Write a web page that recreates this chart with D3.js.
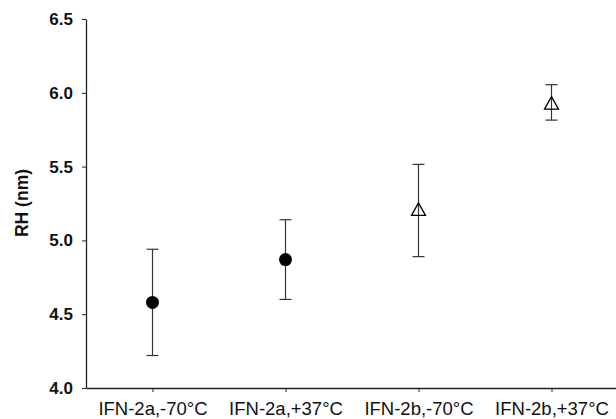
<!DOCTYPE html>
<html>
<head>
<meta charset="utf-8">
<script src="https://cdn.jsdelivr.net/npm/d3@7"></script>
<style>
  body { margin: 0; background: #fff; }
  .axis text { font-family: "Liberation Sans", Arial, sans-serif; fill: #111; }
</style>
</head>
<body>
<div class="chart"></div>
<script>
// DATA ------------------------------------
const groups = ["IFN-2a,-70\u00B0C", "IFN-2a,+37\u00B0C", "IFN-2b,-70\u00B0C", "IFN-2b,+37\u00B0C"];
const means  = [4.58, 4.87, 5.21, 5.93];
const upper  = [4.94, 5.14, 5.515, 6.055];
const lower  = [4.22, 4.60, 4.89, 5.815];
const symbols = ["circle", "circle", "triangle", "triangle"];
const yTicks = [4.0, 4.5, 5.0, 5.5, 6.0, 6.5];

// CHART INIT ------------------------------
const W = 616, H = 419;
const svg = d3.select(".chart")
    .append("svg")
    .attr("width", W)
    .attr("height", H);

const data = groups.map((g, i) => ({group: g, mean: means[i], hi: upper[i], lo: lower[i], sym: symbols[i]}));

let xScale = d3.scalePoint()
    .domain(groups)
    .range([86, 618])
    .padding(0.5);
let yScale = d3.scaleLinear()
    .domain([4, 6.5])
    .range([388, 19]);

// axes
const xAxis = svg.append("g")
    .attr("class", "axis x-axis")
    .attr("transform", "translate(0,388)")
    .call(d3.axisBottom(xScale).tickSize(4).tickSizeOuter(0));
xAxis.select(".domain").attr("stroke", "#222").attr("stroke-width", 1.3);
xAxis.selectAll(".tick line").attr("stroke", "#222");
xAxis.selectAll("text")
    .attr("y", 27)
    .attr("dy", 0)
    .attr("font-size", "18.5px");

const yAxis = svg.append("g")
    .attr("class", "axis y-axis")
    .attr("transform", "translate(86,0)")
    .call(d3.axisLeft(yScale).tickValues(yTicks).tickFormat(d3.format(".1f")).tickSize(4).tickSizeOuter(0));
yAxis.select(".domain").attr("stroke", "#222").attr("stroke-width", 1.3);
yAxis.selectAll(".tick line").attr("stroke", "#222");
yAxis.selectAll("text")
    .attr("x", -13)
    .attr("font-size", "17px")
    .attr("font-weight", "bold");

svg.append("text")//y axis label
    .attr("transform", "translate(28,203) rotate(-90)")
    .attr("text-anchor", "middle")
    .attr("font-family", "Liberation Sans, Arial, sans-serif")
    .attr("font-size", "17.5px")
    .attr("font-weight", "bold")
    .attr("fill", "#111")
    .text("RH (nm)");

// error bars
const bars = svg.append("g").selectAll("g.err")
    .data(data)
    .enter().append("g")
    .attr("class", "err")
    .attr("stroke", "#333")
    .attr("stroke-width", 1.2);
bars.append("line")
    .attr("x1", d => xScale(d.group)).attr("x2", d => xScale(d.group))
    .attr("y1", d => yScale(d.hi)).attr("y2", d => yScale(d.lo));
bars.append("line")
    .attr("x1", d => xScale(d.group) - 6).attr("x2", d => xScale(d.group) + 6)
    .attr("y1", d => yScale(d.hi)).attr("y2", d => yScale(d.hi));
bars.append("line")
    .attr("x1", d => xScale(d.group) - 6).attr("x2", d => xScale(d.group) + 6)
    .attr("y1", d => yScale(d.lo)).attr("y2", d => yScale(d.lo));

// symbols
svg.append("g").selectAll("circle")
    .data(data.filter(d => d.sym == "circle"))
    .enter().append("circle")
    .attr("cx", d => xScale(d.group))
    .attr("cy", d => yScale(d.mean))
    .attr("r", 6.5)
    .attr("fill", "#000");

svg.append("g").selectAll("path")
    .data(data.filter(d => d.sym == "triangle"))
    .enter().append("path")
    .attr("d", d => {
        const x = xScale(d.group), y = yScale(d.mean);
        return `M${x},${y - 6.5}L${x + 7},${y + 6}L${x - 7},${y + 6}Z`;
    })
    .attr("fill", "none")
    .attr("stroke", "#000")
    .attr("stroke-width", 1.3);
</script>
</body>
</html>
